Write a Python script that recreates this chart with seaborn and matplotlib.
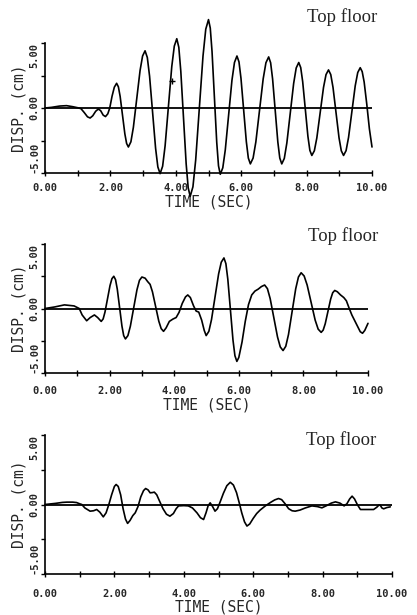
import numpy as np
import matplotlib
matplotlib.use("Agg")
import matplotlib.pyplot as plt
import seaborn as sns

# --- values (time in s, displacement in cm) ---
t_1 = [0.0, 0.2, 0.45, 0.66, 0.85, 1.0, 1.1, 1.2, 1.3, 1.38, 1.46, 1.55,
       1.63, 1.7, 1.78, 1.85, 1.92, 1.98, 2.05, 2.12, 2.19,
       2.244, 2.298, 2.37, 2.442, 2.496, 2.55,
       2.627, 2.703, 2.805, 2.907, 2.984, 3.06,
       3.129, 3.198, 3.29, 3.382, 3.451, 3.52,
       3.597, 3.673, 3.775, 3.877, 3.954, 4.03,
       4.092, 4.153, 4.235, 4.317, 4.379, 4.44,
       4.524, 4.608, 4.72, 4.832, 4.916, 5.0,
       5.054, 5.108, 5.18, 5.252, 5.306, 5.36,
       5.437, 5.513, 5.615, 5.717, 5.794, 5.87,
       5.932, 5.993, 6.075, 6.157, 6.218, 6.28,
       6.364, 6.448, 6.56, 6.672, 6.756, 6.84,
       6.90, 6.96, 7.04, 7.12, 7.18, 7.24,
       7.318, 7.396, 7.50, 7.604, 7.682, 7.76,
       7.82, 7.88, 7.96, 8.04, 8.10, 8.16,
       8.237, 8.313, 8.415, 8.517, 8.594, 8.67,
       8.739, 8.808, 8.90, 8.992, 9.061, 9.13,
       9.207, 9.283, 9.385, 9.487, 9.564, 9.64,
       9.70, 9.76, 9.84, 9.92, 10.0]
d_1 = [0.0, 0.05, 0.15, 0.18, 0.1, 0.02, -0.05, -0.35, -0.68, -0.77, -0.6, -0.25,
       -0.08, -0.2, -0.55, -0.66, -0.45, 0.0, 0.9, 1.6, 1.9,
       1.63, 0.89, -0.55, -1.99, -2.73, -3.0,
       -2.6, -1.48, 0.7, 2.88, 4.0, 4.4,
       3.885, 2.45, -0.325, -3.1, -4.535, -5.05,
       -4.48, -2.91, 0.14, 3.19, 4.76, 5.33,
       4.67, 2.83, -0.735, -4.3, -6.14, -6.8,
       -6.06, -4.0, 0.0, 4.0, 6.06, 6.8,
       6.15, 4.35, 0.85, -2.65, -4.45, -5.1,
       -4.6, -3.23, -0.55, 2.13, 3.5, 4.0,
       3.55, 2.29, -0.15, -2.59, -3.85, -4.3,
       -3.85, -2.61, -0.185, 2.24, 3.48, 3.93,
       3.48, 2.24, -0.185, -2.61, -3.85, -4.3,
       -3.88, -2.69, -0.4, 1.89, 3.08, 3.5,
       3.11, 2.03, -0.075, -2.18, -3.26, -3.65,
       -3.29, -2.3, -0.36, 1.58, 2.57, 2.93,
       2.57, 1.58, -0.36, -2.3, -3.29, -3.65,
       -3.28, -2.26, -0.275, 1.71, 2.73, 3.1,
       2.8, 2.0, 0.3, -1.6, -3.0]
# stray "+" mark printed on the top record
plus_t = [3.88]
plus_d = [2.1]

t_2 = [0.0, 0.3, 0.6, 0.9, 1.06, 1.15, 1.29, 1.4, 1.53, 1.63, 1.74,
       1.80, 1.857, 1.935, 2.013, 2.072, 2.13,
       2.184, 2.238, 2.31, 2.382, 2.436, 2.49,
       2.567, 2.643, 2.745, 2.847, 2.924, 3.0, 3.1, 3.18,
       3.254, 3.327, 3.425, 3.523, 3.597, 3.67,
       3.75, 3.85, 3.96, 4.06, 4.15, 4.25, 4.35, 4.42, 4.5, 4.6, 4.68,
       4.76, 4.85, 4.93, 4.99,
       5.073, 5.155, 5.265, 5.375, 5.457, 5.54,
       5.60, 5.66, 5.74, 5.82, 5.88, 5.94,
       6.0, 6.1, 6.2, 6.3, 6.4, 6.5, 6.6, 6.7, 6.8,
       6.886, 6.971, 7.085, 7.199, 7.284, 7.37,
       7.454, 7.538, 7.65, 7.762, 7.846, 7.93,
       8.023, 8.116, 8.24, 8.364, 8.457, 8.55,
       8.613, 8.676, 8.76, 8.844, 8.907, 8.97,
       9.05, 9.15, 9.25, 9.33, 9.42, 9.5, 9.59, 9.68, 9.76, 9.83, 9.9, 10.0]
d_2 = [0.0, 0.12, 0.28, 0.2, 0.0, -0.5, -0.95, -0.7, -0.5, -0.7, -1.0,
       -0.81, -0.28, 0.75, 1.78, 2.31, 2.5,
       2.235, 1.5, 0.07, -1.36, -2.1, -2.36,
       -2.1, -1.37, 0.04, 1.45, 2.18, 2.44, 2.35, 2.08,
       1.87, 1.29, 0.155, -0.98, -1.56, -1.77,
       -1.5, -1.0, -0.82, -0.7, -0.3, 0.4, 0.9, 1.05, 0.85, 0.2, -0.2,
       -0.28, -0.9, -1.7, -2.1,
       -1.77, -0.86, 0.91, 2.68, 3.59, 3.92,
       3.48, 2.27, -0.09, -2.45, -3.66, -4.1,
       -3.8, -2.6, -1.0, 0.3, 1.05, 1.35, 1.5, 1.7, 1.82,
       1.54, 0.77, -0.72, -2.21, -2.98, -3.26,
       -2.93, -2.02, -0.245, 1.53, 2.44, 2.77,
       2.52, 1.82, 0.46, -0.9, -1.6, -1.85,
       -1.67, -1.18, -0.225, 0.73, 1.22, 1.4,
       1.3, 1.05, 0.85, 0.6, 0.0, -0.5, -0.95, -1.4, -1.8, -1.92, -1.7, -1.15]

t_3 = [0.0, 0.3, 0.5, 0.63, 0.8, 0.91, 1.0, 1.06, 1.15, 1.3, 1.4, 1.49,
       1.58, 1.68, 1.76, 1.84, 1.92, 2.0, 2.05, 2.11, 2.18, 2.25, 2.32, 2.38,
       2.45, 2.53, 2.6, 2.68, 2.76, 2.84, 2.9, 2.97, 3.03, 3.1, 3.15, 3.22,
       3.3, 3.4, 3.5, 3.6, 3.7, 3.78, 3.85, 4.0, 4.13, 4.25, 4.38, 4.48,
       4.57, 4.64, 4.7, 4.76, 4.83, 4.9, 4.97, 5.05, 5.14, 5.24, 5.34, 5.43,
       5.52, 5.6, 5.67, 5.75, 5.82, 5.9, 6.0, 6.1, 6.2, 6.35, 6.5, 6.62,
       6.73, 6.82, 6.92, 7.02, 7.12, 7.21, 7.35, 7.5, 7.69, 7.85, 7.98, 8.1,
       8.25, 8.37, 8.5, 8.62, 8.7, 8.78, 8.85, 8.92, 9.0, 9.09, 9.3, 9.47,
       9.56, 9.62, 9.66, 9.71, 9.76, 9.85, 9.95]
d_3 = [0.0, 0.08, 0.15, 0.17, 0.17, 0.14, 0.05, 0.0, -0.25, -0.48, -0.45, -0.36,
       -0.55, -0.89, -0.6, 0.0, 0.7, 1.3, 1.44, 1.3, 0.7, -0.3, -1.05, -1.36,
       -1.15, -0.8, -0.6, -0.15, 0.55, 1.0, 1.15, 1.05, 0.84, 0.86, 0.89, 0.7,
       0.25, -0.3, -0.7, -0.84, -0.65, -0.3, -0.1, -0.08, -0.1, -0.25, -0.6, -0.95,
       -1.08, -0.6, -0.1, 0.12, -0.15, -0.48, -0.3, 0.2, 0.8, 1.35, 1.6, 1.4,
       0.85, 0.1, -0.6, -1.25, -1.55, -1.4, -1.0, -0.65, -0.4, -0.1, 0.15, 0.33,
       0.43, 0.35, 0.05, -0.3, -0.45, -0.48, -0.4, -0.25, -0.1, -0.15, -0.24, -0.1,
       0.1, 0.19, 0.1, -0.1, 0.05, 0.4, 0.6, 0.4, 0.0, -0.36, -0.36, -0.36,
       -0.2, -0.05, -0.05, -0.25, -0.31, -0.22, -0.17]

panels = [(t_1, d_1), (t_2, d_2), (t_3, d_3)]
title = "Top floor"
xticks = [0, 2, 4, 6, 8, 10]
yticks = [-5, 0, 5]

sns.set_theme(style="white")
plt.rcParams["font.family"] = ["DejaVu Sans Mono"]

fig = plt.figure(figsize=(4.17, 6.15), dpi=100)
W, H = 417.0, 615.0
# axes boxes in pixels: left, top, right, bottom
boxes = [(45, 43, 372, 173), (45, 244, 368, 373), (45, 435, 392, 574)]
title_pos = [(377, 17), (378, 236), (376, 440)]
tick_pads = [5, 7, 8]

axes = []
for (t, d), (x0, y0, x1, y1), (tx, ty), pad in zip(panels, boxes, title_pos, tick_pads):
    ax = fig.add_axes([x0 / W, 1 - y1 / H, (x1 - x0) / W, (y1 - y0) / H])
    sns.lineplot(x=t, y=d, ax=ax, color="black", linewidth=1.2,
                 estimator=None, sort=False)
    for ln in ax.lines:
        ln.set_clip_on(False)
        ln.set_solid_joinstyle("round")
    ax.axhline(0, color="black", linewidth=1.3)
    ax.set_xlim(0, 10)
    ax.set_ylim(-5, 5)
    sns.despine(ax=ax)
    for s in ("left", "bottom"):
        ax.spines[s].set_color("black")
        ax.spines[s].set_linewidth(1.2)
    ax.set_xticks(np.arange(0, 11, 1), minor=True)
    ax.set_xticks(xticks)
    ax.set_xticklabels([f"{v:.2f}" for v in xticks], fontsize=7.5, fontweight="bold")
    ax.set_yticks([-2.5, 2.5], minor=True)
    ax.set_yticks(yticks)
    ylabs = ax.set_yticklabels([f"{v:.2f}" for v in yticks], fontsize=7.5,
                               fontweight="bold", rotation=90)
    for lab, va in zip(ylabs, ["bottom", "center", "top"]):
        lab.set_va(va)
    ax.tick_params(axis="x", which="both", direction="inout", length=5,
                   width=1, color="black", pad=pad, bottom=True)
    ax.tick_params(axis="y", which="both", direction="out", length=3,
                   width=1, color="black", pad=1, left=True)
    ax.set_xlabel("TIME (SEC)", fontsize=10.5, labelpad=1)
    ax.set_ylabel("DISP. (cm)", fontsize=10.5, labelpad=2)
    fig.text(tx / W, 1 - ty / H, title, ha="right", va="center",
             fontsize=13.5, family="Liberation Serif")
    axes.append(ax)

sns.scatterplot(x=plus_t, y=plus_d, ax=axes[0], marker="+", s=25,
                color="black", linewidth=1)

fig.savefig("out.png", dpi=100, facecolor="white")
